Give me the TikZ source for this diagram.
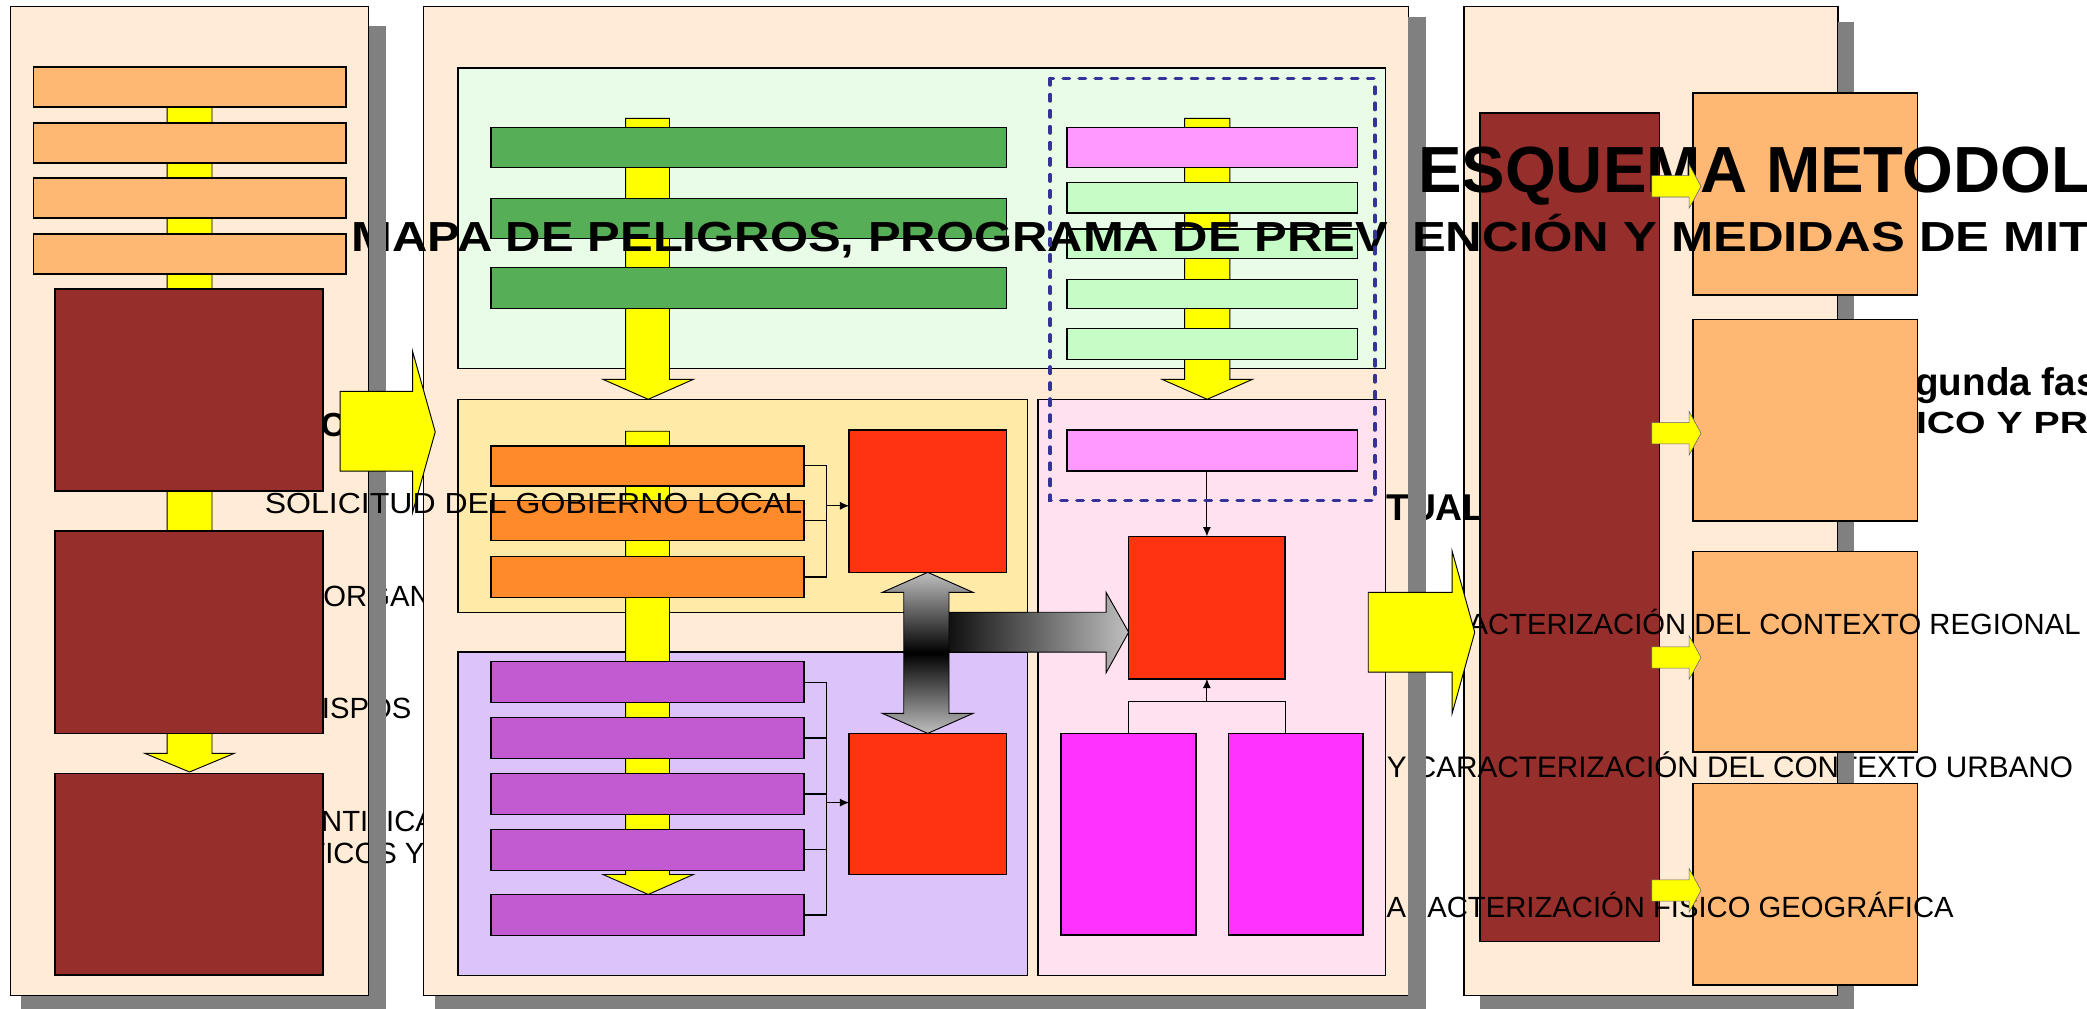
\documentclass[tikz,border=0pt]{standalone}
\usepackage{fontspec}
\setmainfont{Liberation Sans}
\usetikzlibrary{fit,arrows.meta}
\definecolor{panelbg}{HTML}{FFEBD6}
\definecolor{shadowgray}{HTML}{808080}
\definecolor{lorange}{HTML}{FFB874}
\definecolor{dred}{HTML}{962E2B}
\definecolor{yel}{HTML}{FFFF00}
\definecolor{gpanel}{HTML}{E9FCE8}
\definecolor{gbar}{HTML}{56AE56}
\definecolor{pinkbar}{HTML}{FF99FF}
\definecolor{lgbar}{HTML}{C6FCC6}
\definecolor{ypanel}{HTML}{FFEAA8}
\definecolor{obar}{HTML}{FF8A2A}
\definecolor{ppanel}{HTML}{DCC4FB}
\definecolor{chk}{HTML}{C25AD2}
\definecolor{redbox}{HTML}{FF3311}
\definecolor{pkpanel}{HTML}{FFE1EF}
\definecolor{mag}{HTML}{FF33FF}
\definecolor{dashblue}{HTML}{333399}
\definecolor{arrgray}{HTML}{BFBFBF}
\newcommand\rgft{\fontsize{25}{30}\selectfont}
\newcommand\rgfu{\fontsize{25.4}{30}\selectfont}
\begin{document}
\begin{tikzpicture}[x=0.4mm,y=-0.4mm,line join=miter,
  bx/.style={draw=black,line width=1.2pt,inner sep=0pt,outer sep=0pt},
  txt/.style={anchor=base west,inner sep=0pt,outer sep=0pt,text=black},
  conn/.style={draw=black,line width=1pt},
  tipa/.style={-{Latex[length=8pt,width=7pt]}},
  yarrow/.style={fill=yel,draw=black,line width=0.8pt},
  sarrow/.style={fill=yel,draw=black!60,line width=0.5pt},
  shd/.style={fill=shadowgray,draw=none}]
\useasboundingbox (0,0) rectangle (1568,758);
\clip (0,0) rectangle (1568,758);

% ---------- left panel background and hidden-behind texts
\node[bx,fill=panelbg,fit={(8,5) (277,748)}] (lp) {};
\node[txt,font=\fontsize{28.5}{32}\selectfont\bfseries] (tco) at (241,328) {CO};
\node[txt,font=\rgft] (torg) at (243,456) {ORGAN};
\node[txt,font=\rgft] (tdis) at (226,539.5) {DISPOS};
\node[txt,font=\rgft] (tide) at (241.3,625) {NTIFICA};
\node[txt,font=\rgft] (tcri) at (231,648.6) {TICOS Y};

% ---------- middle and right panel backgrounds
\node[bx,fill=panelbg,fit={(318,5) (1058,748)}] (mp) {};
\node[bx,fill=panelbg,fit={(1100,5) (1381,748)}] (rp) {};

% texts lying on the panel backgrounds
\node[txt,font=\fontsize{31.9}{34}\selectfont\bfseries] (tact) at (1001,390.7) {ACTUAL};
\node[bx,fill=dred,fit={(1112,85) (1247,707.5)}] (rdr) {};
\node[txt,font=\rgfu] (turb) at (1042,584) {Y CARACTERIZACIÓN DEL CONTEXTO URBANO};

% right panel shadow
\fill[shd] (1381,16.5) rectangle (1393,760);
\fill[shd] (1112,748) rectangle (1393,760);

\node[txt,font=\fontsize{33}{36}\selectfont\bfseries] (tseg) at (1403.5,296.8) {Segunda fase};
\node[txt,font=\fontsize{26.2}{30}\selectfont\bfseries] (tdia) at (1284,325.5) {\scalebox{1.28}[1]{DIAGNÓSTICO Y PROPUESTA}};

% right panel orange boxes
\node[bx,fill=lorange,fit={(1272,70) (1440.6,221.7)}] (ro1) {};
\node[bx,fill=lorange,fit={(1272,240) (1440.6,391.5)}] (ro2) {};
\node[bx,fill=lorange,fit={(1272,414.5) (1440.6,565)}] (ro3) {};
\node[bx,fill=lorange,fit={(1272,588.5) (1440.6,740)}] (ro4) {};

\node[txt,font=\rgft] (treg) at (1057,477) {CARACTERIZACIÓN DEL CONTEXTO REGIONAL};
\node[txt,font=\rgft] (tfis) at (1026,689) {CARACTERIZACIÓN FÍSICO GEOGRÁFICA};

% ---------- middle sub-panels
\node[bx,fill=gpanel,fit={(344,51) (1041,277)}] (gp) {};
\node[bx,fill=ypanel,fit={(344,300) (772,460)}] (yp) {};
\node[bx,fill=ppanel,fit={(344,490) (772,733)}] (pp) {};
\node[bx,fill=pkpanel,fit={(780,300) (1041,733)}] (kp) {};

% middle panel shadow
\fill[shd] (1058,12.5) rectangle (1071,760);
\fill[shd] (327,748) rectangle (1071,760);

% green panel content
\path[yarrow] (470,89) -- (503,89) -- (503,285) -- (521,285) -- (487,300) -- (453,285) -- (470,285) -- cycle;
\node[bx,fill=gbar,fit={(369,96) (756,126)}] (gb1) {};
\node[bx,fill=gbar,fit={(369,149) (756,179)}] (gb2) {};
\node[bx,fill=gbar,fit={(369,201) (756,232)}] (gb3) {};

\path[yarrow] (890,89) -- (924,89) -- (924,285) -- (941,285) -- (907,300) -- (873,285) -- (890,285) -- cycle;
\node[bx,fill=pinkbar,fit={(801.5,96) (1020,126)}] (pb1) {};
\node[bx,fill=lgbar,fit={(801.5,137) (1020,160)}] (lg1) {};
\node[bx,fill=lgbar,fit={(801.5,172) (1020,194)}] (lg2) {};
\node[bx,fill=lgbar,fit={(801.5,210) (1020,232)}] (lg3) {};
\node[bx,fill=lgbar,fit={(801.5,247) (1020,270)}] (lg4) {};

% yellow + purple panel content
\path[yarrow] (470,324) -- (503,324) -- (503,657) -- (521,657) -- (487,672) -- (453,657) -- (470,657) -- cycle;
\node[bx,fill=obar,fit={(369,335) (604,365)}] (ob1) {};
\node[bx,fill=obar,fit={(369,376) (604,406)}] (ob2) {};
\node[bx,fill=obar,fit={(369,418) (604,449)}] (ob3) {};
\node[bx,fill=redbox,fit={(638,323) (756,430)}] (rb1) {};
\coordinate (yb) at (621,380);
\draw[conn] (ob1.east) -- (ob1.east -| yb) -- (ob3.east -| yb) -- (ob3.east);
\draw[conn] (ob2.east) -- (ob2.east -| yb);
\draw[conn,tipa] (yb) -- (yb -| rb1.west);

\node[bx,fill=chk,fit={(369,497) (604,528)}] (cb1) {};
\node[bx,fill=chk,fit={(369,539) (604,570)}] (cb2) {};
\node[bx,fill=chk,fit={(369,581) (604,612)}] (cb3) {};
\node[bx,fill=chk,fit={(369,623) (604,654)}] (cb4) {};
\node[bx,fill=chk,fit={(369,672) (604,703)}] (cb5) {};
\node[bx,fill=redbox,fit={(638,551) (756,657)}] (rb2) {};
\coordinate (pbk) at (621,603);
\draw[conn] (cb1.east) -- (cb1.east -| pbk) -- (cb5.east -| pbk) -- (cb5.east);
\draw[conn] (cb2.east) -- (cb2.east -| pbk);
\draw[conn] (cb3.east) -- (cb3.east -| pbk);
\draw[conn] (cb4.east) -- (cb4.east -| pbk);
\draw[conn,tipa] (pbk) -- (pbk -| rb2.west);

% pink panel content
\node[bx,fill=pinkbar,fit={(801.5,323) (1020,354)}] (pb2) {};
\node[bx,fill=redbox,fit={(848,403) (965.5,510)}] (rb3) {};
\node[bx,fill=mag,fit={(797,551) (898.6,702.5)}] (mg1) {};
\node[bx,fill=mag,fit={(923,551) (1024,702.5)}] (mg2) {};
\draw[conn,tipa] (rb3.north |- pb2.south) -- (rb3.north);
\coordinate (pkb) at (906.75,527);
\draw[conn] (mg1.north) -- (mg1.north |- pkb) -- (rb3.south east |- pkb) -- (rb3.south east |- mg2.north);
\draw[conn,tipa] (pkb) -- (rb3.south);

% grey gradient arrows
\shadedraw[left color=black,right color=arrgray,draw=black,line width=0.8pt]
  (700,460) -- (831,460) -- (831,445) -- (848,475) -- (831,505.5) -- (831,490) -- (700,490) -- cycle;
\shadedraw[top color=arrgray,bottom color=arrgray,middle color=black,draw=black,line width=0.8pt]
  (697,430) -- (731,445) -- (713,445) -- (713,536) -- (731,536) -- (697,551) -- (663,536) -- (679,536) -- (679,445) -- (663,445) -- cycle;

% ---------- left panel content
\path[yarrow] (125.5,65) -- (159.3,65) -- (159.3,566) -- (176,566) -- (142.4,580) -- (108.8,566) -- (125.5,566) -- cycle;
\node[bx,fill=lorange,fit={(25,50.3) (260,80.4)}] (lo1) {};
\node[bx,fill=lorange,fit={(25,92.4) (260,122.5)}] (lo2) {};
\node[bx,fill=lorange,fit={(25,133.7) (260,163.8)}] (lo3) {};
\node[bx,fill=lorange,fit={(25,175.8) (260,205.9)}] (lo4) {};
\node[bx,fill=dred,fit={(41.3,217) (242.7,369)}] (ld1) {};
\node[bx,fill=dred,fit={(41.3,399) (242.7,551)}] (ld2) {};
\node[bx,fill=dred,fit={(41.3,581) (242.7,732.5)}] (ld3) {};

% ---------- long bold title line
\node[txt,font=\fontsize{35.96}{40}\selectfont\bfseries] (tmapa) at (264.3,189)
  {\scalebox{1.165}[1]{MAPA DE PELIGROS, PROGRAMA DE PREV\hspace{17.6pt}\scalebox{1.035}[1]{ENCIÓN Y MEDIDAS DE MITIGACIÓN}}};

% left panel shadow
\fill[shd] (277,19.5) rectangle (290,760);
\fill[shd] (16,748) rectangle (290,760);

% dashed group frame
\draw[dashblue,line width=3pt,line cap=round,dash pattern=on 5.5pt off 8.2pt] (789,59) rectangle (1033,376);

% main title
\node[txt,font=\fontsize{55.8}{60}\selectfont\bfseries] (ttit) at (1065.4,145) {ESQUEMA METODOLÓGICO};

% small arrows of the right panel
\foreach \c in {140,325.5,494,669}{
  \path[sarrow] (1241,\c-8) -- (1269,\c-8) -- (1269,\c-16.5) -- (1278,\c) -- (1269,\c+16.5) -- (1269,\c+8) -- (1241,\c+8) -- cycle;
}

% big yellow arrows between panels
\path[yarrow] (255.5,294) -- (310,294) -- (310,264) -- (327,324.5) -- (310,385) -- (310,354) -- (255.5,354) -- cycle;
\path[yarrow] (1028,445) -- (1091,445) -- (1091,414) -- (1108,475) -- (1091,536) -- (1091,505) -- (1028,505) -- cycle;

% top text
\node[txt,font=\fontsize{24.8}{30}\selectfont] (tsol) at (199,386) {\scalebox{1.104}[1]{SOLICITUD DEL GOBIERNO LOCAL}};
\end{tikzpicture}
\end{document}
